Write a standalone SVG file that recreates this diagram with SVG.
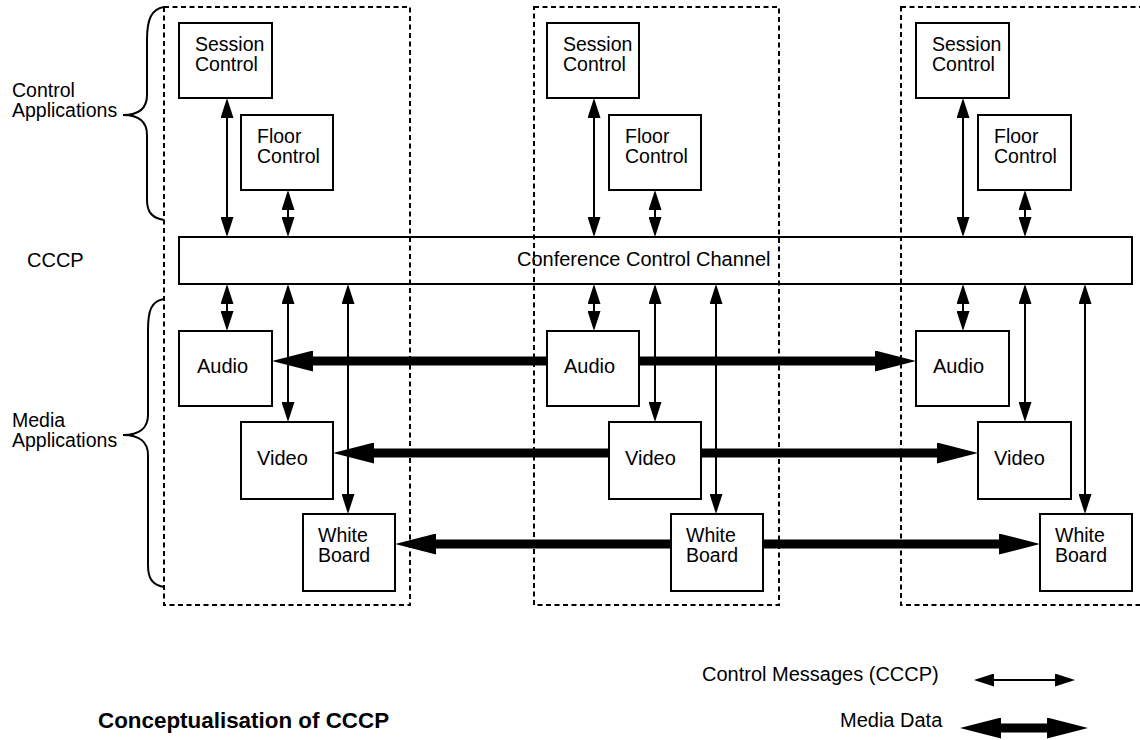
<svg xmlns="http://www.w3.org/2000/svg" width="1140" height="740" viewBox="0 0 1140 740">
<style>
text{font-family:"Liberation Sans",Arial,Helvetica,sans-serif;font-size:19.5px;fill:#000}
.box{fill:#fff;stroke:#000;stroke-width:2}
.bar{fill:none;stroke:#000;stroke-width:2}
.dash{fill:none;stroke:#000;stroke-width:2;stroke-dasharray:5 3.5}
.brace{fill:none;stroke:#000;stroke-width:2}
.thin{stroke:#000;stroke-width:2;marker-start:url(#th);marker-end:url(#th)}
.thick{stroke:#000;stroke-width:9;marker-end:url(#tk)}
.thick2{stroke:#000;stroke-width:9;marker-start:url(#tk);marker-end:url(#tk)}
.big{font-size:20px}
.title{font-weight:bold;font-size:22.4px}
</style>
<defs>
<marker id="th" markerUnits="userSpaceOnUse" markerWidth="20" markerHeight="13" refX="10" refY="6.5" orient="auto-start-reverse"><path d="M0,0 L20,6.5 L0,13 z" fill="#000"/></marker>
<marker id="tk" markerUnits="userSpaceOnUse" markerWidth="41" markerHeight="21" refX="11" refY="10.5" orient="auto-start-reverse"><path d="M0,0 L41,10.5 L0,21 z" fill="#000"/></marker>
</defs>
<rect width="1140" height="740" fill="#fff"/>

<g id="labels">
<text x="12" y="97">Control</text>
<text x="12" y="117">Applications</text>
<text class="big" x="27" y="267">CCCP</text>
<text x="12" y="427">Media</text>
<text x="12" y="447">Applications</text>
<path class="brace" d="M164,7 C151,9 147,20 147,40 L147,95 C147,108 139,115 123,115 C139,115 147,122 147,135 L147,200 C147,212 152,218 164,220"/>
<path class="brace" d="M164,299 C151,301 148,311 148,330 L148,415 C148,428 139,435 123,435 C139,435 148,442 148,455 L148,565 C148,578 152,585 164,587"/>
</g>

<g id="connectors">
<line class="thick" x1="547" y1="361" x2="302" y2="361"/>
<line class="thick" x1="639" y1="361" x2="886" y2="361"/>
<line class="thick" x1="609" y1="453" x2="363" y2="453"/>
<line class="thick" x1="701" y1="453" x2="948" y2="453"/>
<line class="thick" x1="671" y1="544" x2="425" y2="544"/>
<line class="thick" x1="763" y1="544" x2="1010" y2="544"/>

<line class="thin" x1="227" y1="108" x2="227" y2="227"/>
<line class="thin" x1="288" y1="200" x2="288" y2="227"/>
<line class="thin" x1="227" y1="294" x2="227" y2="321"/>
<line class="thin" x1="288" y1="294" x2="288" y2="412"/>
<line class="thin" x1="348" y1="294" x2="348" y2="504"/>

<line class="thin" x1="594" y1="108" x2="594" y2="227"/>
<line class="thin" x1="655" y1="200" x2="655" y2="227"/>
<line class="thin" x1="594" y1="294" x2="594" y2="321"/>
<line class="thin" x1="655" y1="294" x2="655" y2="412"/>
<line class="thin" x1="716" y1="294" x2="716" y2="504"/>

<line class="thin" x1="963" y1="108" x2="963" y2="227"/>
<line class="thin" x1="1025" y1="200" x2="1025" y2="227"/>
<line class="thin" x1="963" y1="294" x2="963" y2="321"/>
<line class="thin" x1="1025" y1="294" x2="1025" y2="412"/>
<line class="thin" x1="1085" y1="294" x2="1085" y2="504"/>
</g>

<g id="ccc">
<rect class="bar" x="179" y="237" width="953" height="47"/>
<text class="big" x="517" y="266">Conference Control Channel</text>
</g>

<g id="session1"><rect class="box" x="179" y="23" width="93" height="75"/><text x="195" y="51">Session</text><text x="195" y="71">Control</text></g>
<g id="floor1"><rect class="box" x="241" y="115" width="92" height="75"/><text x="257" y="143">Floor</text><text x="257" y="163">Control</text></g>
<g id="audio1"><rect class="box" x="179" y="331" width="93" height="75"/><text class="big" x="197" y="373">Audio</text></g>
<g id="video1"><rect class="box" x="241" y="422" width="92" height="77"/><text class="big" x="257" y="465">Video</text></g>
<g id="wb1"><rect class="box" x="303" y="514" width="92" height="77"/><text x="318" y="542">White</text><text x="318" y="562">Board</text></g>

<g id="session2"><rect class="box" x="547" y="23" width="92" height="75"/><text x="563" y="51">Session</text><text x="563" y="71">Control</text></g>
<g id="floor2"><rect class="box" x="609" y="115" width="92" height="75"/><text x="625" y="143">Floor</text><text x="625" y="163">Control</text></g>
<g id="audio2"><rect class="box" x="547" y="331" width="92" height="75"/><text class="big" x="564" y="373">Audio</text></g>
<g id="video2"><rect class="box" x="609" y="422" width="92" height="77"/><text class="big" x="625" y="465">Video</text></g>
<g id="wb2"><rect class="box" x="671" y="514" width="92" height="77"/><text x="686" y="542">White</text><text x="686" y="562">Board</text></g>

<g id="session3"><rect class="box" x="916" y="23" width="93" height="75"/><text x="932" y="51">Session</text><text x="932" y="71">Control</text></g>
<g id="floor3"><rect class="box" x="978" y="115" width="93" height="75"/><text x="994" y="143">Floor</text><text x="994" y="163">Control</text></g>
<g id="audio3"><rect class="box" x="916" y="331" width="93" height="75"/><text class="big" x="933" y="373">Audio</text></g>
<g id="video3"><rect class="box" x="978" y="422" width="93" height="77"/><text class="big" x="994" y="465">Video</text></g>
<g id="wb3"><rect class="box" x="1040" y="514" width="92" height="77"/><text x="1055" y="542">White</text><text x="1055" y="562">Board</text></g>

<g id="hosts">
<rect class="dash" x="164" y="7" width="246" height="598"/>
<rect class="dash" x="534" y="7" width="245" height="598"/>
<rect class="dash" x="901" y="7" width="250" height="598"/>
</g>

<g id="legend">
<text class="big" x="702" y="681">Control Messages (CCCP)</text>
<line class="thin" x1="984" y1="680" x2="1065" y2="680"/>
<text class="big" x="840" y="727">Media Data</text>
<line class="thick2" x1="990" y1="728" x2="1058" y2="728"/>
<text class="title" x="98" y="728">Conceptualisation of CCCP</text>
</g>
</svg>
